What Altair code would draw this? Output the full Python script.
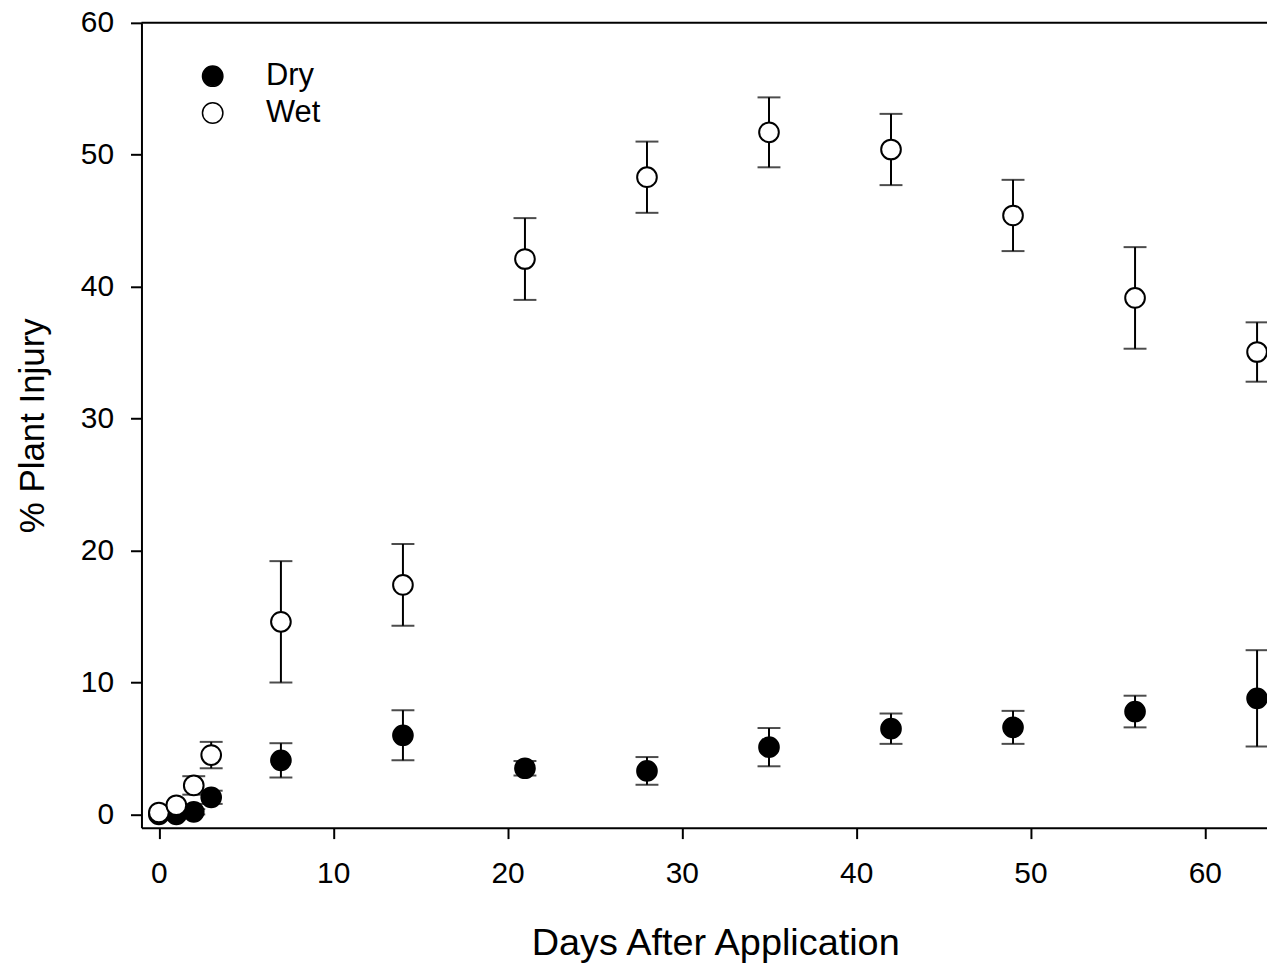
import altair as alt
import pandas as pd

days = [0, 1, 2, 3, 7, 14, 21, 28, 35, 42, 49, 56, 63]
dry_mean = [0.0, 0.0, 0.2, 1.3, 4.1, 6.0, 3.5, 3.3, 5.1, 6.5, 6.6, 7.8, 8.8]
dry_se = [0.0, 0.0, 0.2, 0.5, 1.3, 1.9, 0.55, 1.05, 1.45, 1.15, 1.25, 1.2, 3.65]
wet_mean = [0.15, 0.7, 2.2, 4.5, 14.6, 17.4, 42.1, 48.3, 51.7, 50.4, 45.4, 39.15, 35.05]
wet_se = [0.0, 0.0, 0.7, 1.0, 4.6, 3.1, 3.1, 2.7, 2.65, 2.7, 2.7, 3.85, 2.25]
groups = ["Dry", "Wet"]
x_ticks = [0, 10, 20, 30, 40, 50, 60]
y_ticks = [0, 10, 20, 30, 40, 50, 60]

rows = []
for g, means, ses in [("Dry", dry_mean, dry_se), ("Wet", wet_mean, wet_se)]:
    for d, m, s in zip(days, means, ses):
        rows.append({"group": g, "day": d, "mean": m, "se": s, "lo": m - s, "hi": m + s})
df = pd.DataFrame(rows)
df_err = df[df["se"] > 0]

W, H = 1130, 808
FONT = "Liberation Sans"

xscale = alt.Scale(domain=[-1, 63.57], nice=False, zero=False)
yscale = alt.Scale(domain=[-1, 60], nice=False, zero=False)

x_axis = alt.Axis(values=x_ticks, title="Days After Application", titleFontSize=38,
                  labelPadding=20, titlePadding=36, labelOverlap=False, titleX=576)
y_axis = alt.Axis(values=y_ticks, title="% Plant Injury", titleFontSize=35,
                  labelPadding=17, titlePadding=30, labelOverlap=False)

top_line = alt.Chart(pd.DataFrame({"k": [0]})).mark_rule(color="black", strokeWidth=2).encode(
    x=alt.value(0), x2=alt.value(W), y=alt.value(0)
)

err = alt.Chart(df_err).mark_rule(color="black", strokeWidth=2).encode(
    x=alt.X("day:Q", scale=xscale, axis=x_axis),
    y=alt.Y("lo:Q", scale=yscale, axis=y_axis),
    y2="hi:Q",
)
cap_hi = alt.Chart(df_err).mark_tick(color="black", orient="horizontal", size=23, thickness=2).encode(
    x=alt.X("day:Q", scale=xscale), y=alt.Y("hi:Q", scale=yscale)
)
cap_lo = alt.Chart(df_err).mark_tick(color="black", orient="horizontal", size=23, thickness=2).encode(
    x=alt.X("day:Q", scale=xscale), y=alt.Y("lo:Q", scale=yscale)
)

points = alt.Chart(df).mark_point(shape="circle", filled=True, size=390, stroke="black",
                                  strokeWidth=2, opacity=1).encode(
    x=alt.X("day:Q", scale=xscale),
    y=alt.Y("mean:Q", scale=yscale),
    fill=alt.Fill("group:N", scale=alt.Scale(domain=groups, range=["black", "white"]),
                  legend=alt.Legend(title=None, orient="none", legendX=56, legendY=38,
                                    labelFontSize=31, symbolType="circle", symbolSize=420,
                                    symbolStrokeColor="black", symbolStrokeWidth=1.5,
                                    labelOffset=38, rowPadding=5, padding=0)),
)

chart = alt.layer(top_line, err, cap_hi, cap_lo, points).properties(
    width=W, height=H,
    autosize=alt.AutoSizeParams(type="none"),
    padding={"left": 134, "top": 13, "right": 0, "bottom": 135},
).configure(font=FONT).configure_view(stroke=None).configure_axis(
    grid=False, domainColor="black", domainWidth=2, tickColor="black", tickWidth=2,
    tickSize=11, labelFontSize=30, labelColor="black", titleColor="black",
    titleFontWeight="normal", labelFont=FONT, titleFont=FONT
).configure_legend(labelFont=FONT, labelColor="black")

chart.save("out.html", embed_options={"renderer": "svg", "actions": False})
